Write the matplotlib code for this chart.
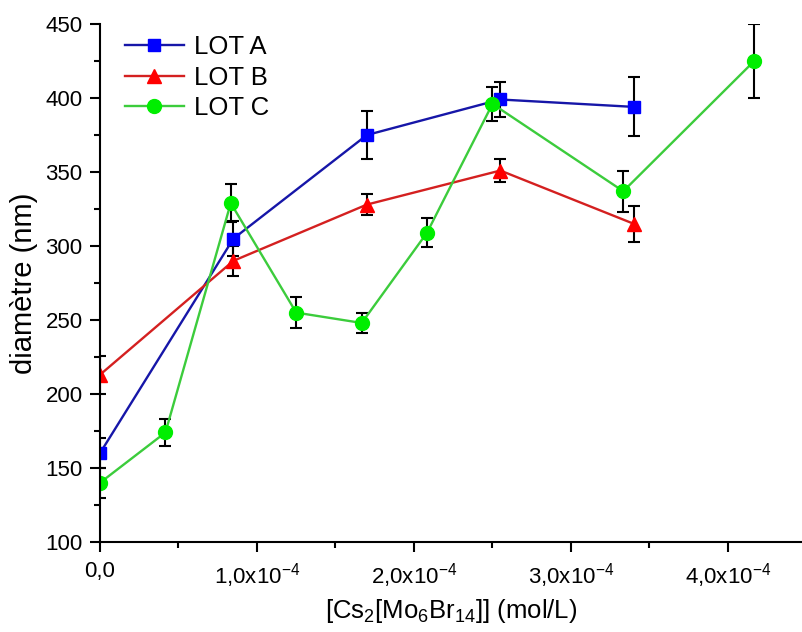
import matplotlib
matplotlib.use("Agg")
import matplotlib.pyplot as plt
from matplotlib.ticker import MultipleLocator, FuncFormatter

plt.rcParams['font.family'] = ['Liberation Sans', 'DejaVu Sans']
plt.rcParams['mathtext.default'] = 'regular'

# concentrations (mol/L) and mean diameters (nm)
x_ab = [0, 0.85e-4, 1.70e-4, 2.55e-4, 3.40e-4]
y_a = [160, 305, 375, 399, 394]
err_a = [10, 12, 16, 11.5, 20]

y_b = [213, 290, 328, 351, 315]
err_b = [13, 10, 7, 8, 12]

x_c = [0, 0.417e-4, 0.833e-4, 1.25e-4, 1.667e-4, 2.083e-4, 2.5e-4, 3.333e-4, 4.167e-4]
y_c = [140, 174, 329, 255, 248, 309, 396, 337, 425]
err_c = [10, 9, 13, 10.5, 7, 10, 11.5, 14, 25]

labels = ['LOT A', 'LOT B', 'LOT C']

fig = plt.figure(figsize=(8.03, 6.32), dpi=100)
ax = fig.add_axes([0.1245, 0.1424, 0.874, 0.8196])

series = [
    (x_ab, y_a, err_a, '#1616a8', '#0000ff', 's', 8.5),
    (x_ab, y_b, err_b, '#d42020', '#ff0000', '^', 10.5),
    (x_c, y_c, err_c, '#3ccc3c', '#00ee00', 'o', 10),
]

for (xs, ys, es, lc, mc, mk, ms), lab in zip(series, labels):
    ax.errorbar(xs, ys, yerr=es, fmt='none', ecolor='black', elinewidth=1.5,
                capsize=4, capthick=1.5, zorder=1.9)
    ax.plot(xs, ys, color=lc, lw=1.7, marker=mk, ms=ms, mfc=mc, mec=mc,
            label=lab, zorder=2)

ax.set_xlim(0, 4.47e-4)
ax.set_ylim(100, 450)

ax.xaxis.set_major_locator(MultipleLocator(1e-4))
ax.xaxis.set_minor_locator(MultipleLocator(0.5e-4))
ax.yaxis.set_major_locator(MultipleLocator(50))
ax.yaxis.set_minor_locator(MultipleLocator(25))


def fmt_x(v, pos):
    if abs(v) < 1e-12:
        return '0,0'
    return ('%.1f' % (v * 1e4)).replace('.', ',') + 'x10$^{-4}$'


ax.xaxis.set_major_formatter(FuncFormatter(fmt_x))

for side in ['top', 'right']:
    ax.spines[side].set_visible(False)
for side in ['left', 'bottom']:
    ax.spines[side].set_linewidth(1.5)

ax.tick_params(which='major', direction='out', length=7.5, width=1.5, labelsize=16)
ax.tick_params(which='minor', direction='out', length=4.5, width=1.5)
ax.tick_params(axis='x', which='major', pad=6)
ax.tick_params(axis='y', which='major', pad=5)

ax.set_xlabel('[Cs$_2$[Mo$_6$Br$_{14}$]] (mol/L)', fontsize=18.5, labelpad=5)
ax.set_ylabel('diamètre (nm)', fontsize=21, labelpad=5)

ax.legend(loc='upper left', bbox_to_anchor=(0.035, 0.978), frameon=False,
          fontsize=18.5, numpoints=1, handlelength=2.3, handletextpad=0.4,
          labelspacing=0.25, borderpad=0, borderaxespad=0)

fig.savefig('out.png', dpi=100, facecolor='white')
